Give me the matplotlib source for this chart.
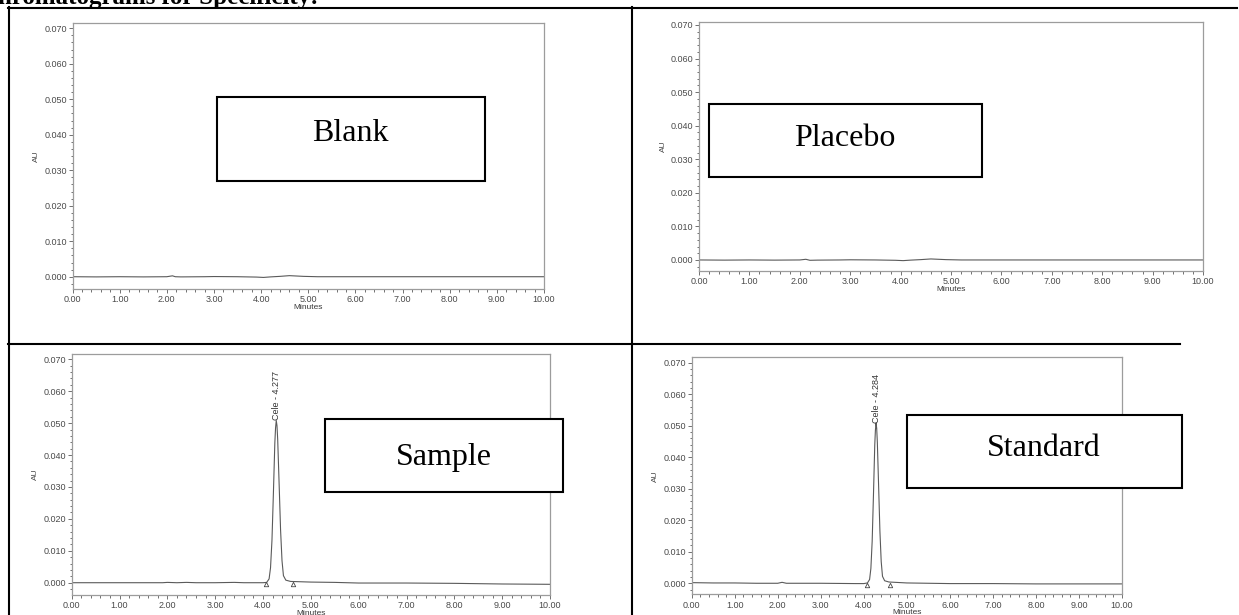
import numpy as np
import matplotlib
matplotlib.use("Agg")
import matplotlib.pyplot as plt
from matplotlib.ticker import MultipleLocator, FormatStrFormatter
from matplotlib.patches import Rectangle
from matplotlib.lines import Line2D

# ---------------- data ----------------
title_text = "hromatograms for Specificity:"
panel_names = ["Blank", "Placebo", "Sample", "Standard"]
x_ticks = [0, 1, 2, 3, 4, 5, 6, 7, 8, 9, 10]
y_ticks = [0.000, 0.010, 0.020, 0.030, 0.040, 0.050, 0.060, 0.070]

blank_t = [0.0, 0.5, 1.0, 1.5, 2.0, 2.12, 2.18, 2.3, 2.8, 3.0, 3.5, 3.9, 4.05,
           4.2, 4.4, 4.6, 4.75, 4.9, 5.2, 6.0, 7.0, 8.0, 9.0, 10.0]
blank_au = [0.0, -0.00005, 0.0, -0.00005, 0.0, 0.00025, 0.0, -0.00005, 0.0,
            0.00005, 0.0, -0.0001, -0.0002, -0.00005, 0.0001, 0.0003, 0.0002,
            0.0001, 0.0, 0.0, 0.0, 0.0, 0.0, 0.0]

placebo_t = [0.0, 0.5, 1.0, 1.5, 2.0, 2.12, 2.2, 2.35, 2.8, 3.0, 3.5, 3.9, 4.05,
             4.2, 4.4, 4.6, 4.75, 4.9, 5.2, 6.0, 7.0, 8.0, 9.0, 10.0]
placebo_au = [0.0, -0.00005, 0.0, -0.00005, 0.0, 0.0002, -0.0001, -0.00005, 0.0,
              0.00005, 0.0, -0.0001, -0.0002, -0.00005, 0.0001, 0.0003, 0.0002,
              0.0001, 0.0, 0.0, 0.0, 0.0, 0.0, 0.0]

sample_t = [0.0, 1.0, 1.9, 2.0, 2.2, 2.4, 2.6, 3.0, 3.4, 3.6, 4.0, 4.077, 4.127,
            4.157, 4.187, 4.217, 4.247, 4.262, 4.277, 4.292, 4.307, 4.337, 4.367,
            4.397, 4.427, 4.477, 4.577, 5.0, 5.5, 6.0, 7.0, 8.0, 9.0, 10.0]
sample_au = [0.0, 0.0, 0.0, 0.0001, 0.0, 0.0001, 0.0, 0.0, 0.0001, 0.0, 0.0,
             0.0001, 0.0012, 0.0047, 0.0133, 0.028, 0.0438, 0.0485, 0.0508,
             0.0492, 0.0448, 0.0308, 0.0165, 0.0069, 0.0022, 0.0008, 0.0004,
             0.0002, 0.0001, -0.0001, -0.0001, -0.0002, -0.0004, -0.0005]

standard_t = [0.0, 0.5, 1.0, 1.5, 2.0, 2.1, 2.2, 3.0, 3.8, 4.0, 4.084, 4.134,
              4.164, 4.194, 4.224, 4.254, 4.269, 4.284, 4.299, 4.314, 4.344,
              4.374, 4.404, 4.434, 4.484, 4.584, 5.0, 6.0, 7.0, 8.0, 9.0, 10.0]
standard_au = [0.0002, 0.0001, 0.0001, 0.0, 0.0, 0.0003, 0.0, 0.0, -0.0001,
               -0.0001, 0.0001, 0.0012, 0.0047, 0.0133, 0.028, 0.0438, 0.0485,
               0.0508, 0.0492, 0.0448, 0.0308, 0.0165, 0.0069, 0.0022, 0.0008,
               0.0004, 0.0001, -0.0001, -0.0001, -0.0002, -0.0002, -0.0002]

sample_peak_rt = 4.277
sample_peak_h = 0.0508
standard_peak_rt = 4.284
standard_peak_h = 0.0508
peak_name = "Cele"
sample_marks_t = [4.07, 4.62]
sample_marks_au = [-0.0005, -0.0004]
standard_marks_t = [4.07, 4.60]
standard_marks_au = [-0.0006, -0.0004]

# ---------------- figure ----------------
W, H = 1239, 615
fig = plt.figure(figsize=(W / 100, H / 100), dpi=100)
fig.patch.set_facecolor("white")

SPINE = "#9c9c9c"
TICKC = "#707070"
LABC = "#4a4a4a"
TRACE = "#5a5a5a"
SANS = "Liberation Sans"


def px_axes(l, r, t, b):
    return fig.add_axes([l / W, 1 - b / H, (r - l) / W, (b - t) / H])


def style(ax, ymin, ymax):
    ax.set_xlim(0, 10)
    ax.set_ylim(ymin, ymax)
    ax.set_xticks(x_ticks)
    ax.set_yticks(y_ticks)
    ax.xaxis.set_major_formatter(FormatStrFormatter("%.2f"))
    ax.yaxis.set_major_formatter(FormatStrFormatter("%.3f"))
    ax.xaxis.set_minor_locator(MultipleLocator(0.2))
    ax.yaxis.set_minor_locator(MultipleLocator(0.002))
    ax.tick_params(which="both", direction="out", colors=TICKC, labelcolor=LABC,
                   labelsize=6.5, width=0.7, pad=1)
    ax.tick_params(which="major", length=3.0)
    ax.tick_params(which="minor", length=1.8)
    ax.tick_params(axis="x", pad=1.5)
    for lab in ax.get_xticklabels() + ax.get_yticklabels():
        lab.set_fontfamily(SANS)
    for s in ax.spines.values():
        s.set_color(SPINE)
        s.set_linewidth(0.9)
    ax.set_xlabel("Minutes", fontsize=6, color="#3a3a3a", labelpad=-0.3,
                  fontfamily=SANS)
    ax.set_ylabel("AU", fontsize=6, color=LABC, labelpad=3, fontfamily=SANS)


axes_px = [
    (72.5, 544, 23, 289, -0.00346, 0.07147),
    (699, 1203, 22.3, 270.7, -0.0032, 0.0708),
    (71.7, 550, 354, 595, -0.00385, 0.07166),
    (691.7, 1122, 357.3, 594.3, -0.0035, 0.0717),
]
traces = [(blank_t, blank_au), (placebo_t, placebo_au),
          (sample_t, sample_au), (standard_t, standard_au)]

axs = []
for (l, r, t, b, y0, y1), (tt, aa) in zip(axes_px, traces):
    ax = px_axes(l, r, t, b)
    style(ax, y0, y1)
    ax.plot(tt, aa, color=TRACE, lw=0.8)
    axs.append(ax)

# peak labels and integration marks
for ax, rt, h, mt, ma in [(axs[2], sample_peak_rt, sample_peak_h, sample_marks_t, sample_marks_au),
                          (axs[3], standard_peak_rt, standard_peak_h, standard_marks_t, standard_marks_au)]:
    ax.text(rt, h + 0.0002, f"{peak_name} - {rt:.3f}", rotation=90, ha="center",
            va="bottom", fontsize=6.5, color="#333333", fontfamily=SANS)
    ax.plot(mt, ma, linestyle="none", marker="^", markersize=3.2,
            markerfacecolor="white", markeredgecolor="#444444", markeredgewidth=0.6)

# ---------------- table grid ----------------
lw_tab = 1.5
def hline(y, x0, x1, lw=lw_tab):
    fig.add_artist(Line2D([x0 / W, x1 / W], [1 - y / H, 1 - y / H], color="black", lw=lw))

def vline(x, y0, y1, lw=lw_tab):
    fig.add_artist(Line2D([x / W, x / W], [1 - y0 / H, 1 - y1 / H], color="black", lw=lw))

hline(7.5, 8, 1237)
hline(344, 8, 1180)
vline(9, 7, 616)
vline(632, 7, 616)

# title (cut off at top, as in the source)
fig.text(-2 / W, 1 - 4 / H, title_text, fontfamily="Liberation Serif",
         fontweight="bold", fontsize=18, ha="left", va="baseline", color="black")

# ---------------- annotation boxes ----------------
boxes = [
    ("Blank", 217, 485, 97, 181, 350, 141),
    ("Placebo", 709.3, 982, 104.3, 176.7, 845, 145.7),
    ("Sample", 325, 563, 419.3, 491.7, 444, 465),
    ("Standard", 906.7, 1182, 415, 487.7, 1044, 456),
]
for name, l, r, t, b, cx, by in boxes:
    fig.add_artist(Rectangle((l / W, 1 - b / H), (r - l) / W, (b - t) / H,
                             facecolor="white", edgecolor="black", lw=1.5,
                             transform=fig.transFigure, zorder=5))
    fig.text(cx / W, 1 - by / H, name, fontfamily="Liberation Serif", fontsize=23,
             ha="center", va="baseline", color="black", zorder=6)

fig.savefig("out.png", dpi=100)
